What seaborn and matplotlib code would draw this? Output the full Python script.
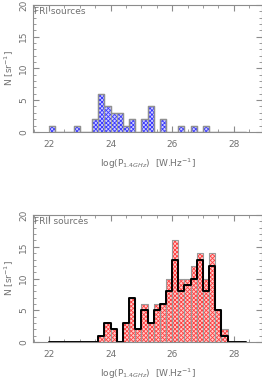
import numpy as np
import pandas as pd
import matplotlib
matplotlib.use("Agg")
import matplotlib.pyplot as plt
from matplotlib.ticker import MultipleLocator
import seaborn as sns

# log(P_1.4GHz) bins, 0.2 dex wide, from 22.0 to 28.4
bin_edges = [round(22.0 + 0.2 * i, 1) for i in range(33)]
bin_centers = [round(e + 0.1, 2) for e in bin_edges[:-1]]

# FRI counts per bin
fri_counts = [1, 0, 0, 0, 1, 0, 0, 2, 6, 4, 3, 3, 1, 2, 0, 2,
              4, 0, 2, 0, 0, 1, 0, 1, 0, 1, 0, 0, 0, 0, 0, 0]

# FRII counts per bin (all, red) and subset (black outline)
frii_counts = [0, 0, 0, 0, 0, 0, 0, 0, 1, 3, 2, 0, 3, 7, 2, 6,
               3, 6, 6, 10, 16, 10, 10, 12, 14, 10, 14, 5, 2, 0, 0, 0]
frii_sub_counts = [0, 0, 0, 0, 0, 0, 0, 0, 1, 3, 2, 0, 3, 7, 2, 5,
                   3, 5, 6, 8, 13, 8, 9, 10, 13, 8, 12, 5, 1, 0, 0, 0]

df = pd.DataFrame({"logp": bin_centers, "fri": fri_counts,
                   "frii": frii_counts, "frii_sub": frii_sub_counts})

sns.set_style("ticks")
plt.rcParams["font.family"] = ["DejaVu Sans"]
plt.rcParams["hatch.linewidth"] = 0.6

gray = "#8c8c8c"
txt = "#707070"

fig = plt.figure(figsize=(2.62, 3.80), dpi=100)
ax1 = fig.add_axes([0.126, 0.653, 0.874, 0.334])
ax2 = fig.add_axes([0.126, 0.100, 0.874, 0.334])


def hatched_hist(ax, col, face, hatch_col):
    sns.histplot(data=df, x="logp", weights=col, bins=bin_edges, element="bars",
                 color=face, alpha=1, ax=ax)
    for p in ax.patches:
        p.set_facecolor(face)
        p.set_hatch("xxxxxxxx")
        p.set_edgecolor(hatch_col)
        p.set_linewidth(0)
    sns.histplot(data=df, x="logp", weights=col, bins=bin_edges, element="bars",
                 fill=False, color="#9a9a9a", linewidth=0.8, ax=ax)


hatched_hist(ax1, "fri", "#cfcfff", "#3a3aff")
sns.histplot(data=df, x="logp", weights="fri", bins=bin_edges, element="step",
             fill=False, color="#909090", linewidth=1.0, ax=ax1)

hatched_hist(ax2, "frii", "#ffcfcf", "#ff4040")
sns.histplot(data=df, x="logp", weights="frii_sub", bins=bin_edges, element="step",
             fill=False, color="black", linewidth=1.4, ax=ax2)

for ax, title in [(ax1, "FRI sources"), (ax2, "FRII sources")]:
    ax.set_xlim(21.48, 28.92)
    ax.set_ylim(0, 20)
    ax.xaxis.set_major_locator(MultipleLocator(2))
    ax.xaxis.set_minor_locator(MultipleLocator(0.5))
    ax.yaxis.set_major_locator(MultipleLocator(5))
    ax.yaxis.set_minor_locator(MultipleLocator(1))
    ax.tick_params(which="both", direction="in", top=True, right=True,
                   colors=gray, labelcolor=txt, labelsize=6.5)
    ax.tick_params(which="major", length=4, width=0.8)
    ax.tick_params(which="minor", length=2, width=0.6)
    ax.tick_params(axis="x", pad=6)
    for lab in ax.get_yticklabels():
        lab.set_rotation(90)
        lab.set_va("center")
    for s in ax.spines.values():
        s.set_color(gray)
        s.set_linewidth(0.8)
    ax.set_ylabel("N [sr$^{-1}$]", color=txt, fontsize=6.5, labelpad=2)
    ax.set_xlabel("log(P$_{1.4GHz}$)  [W.Hz$^{-1}$]", color=txt, fontsize=6.5, labelpad=5)
    ax.text(0.005, 0.985, title, transform=ax.transAxes, ha="left", va="top",
            color=txt, fontsize=6.5)

fig.savefig("out.png", dpi=100)
